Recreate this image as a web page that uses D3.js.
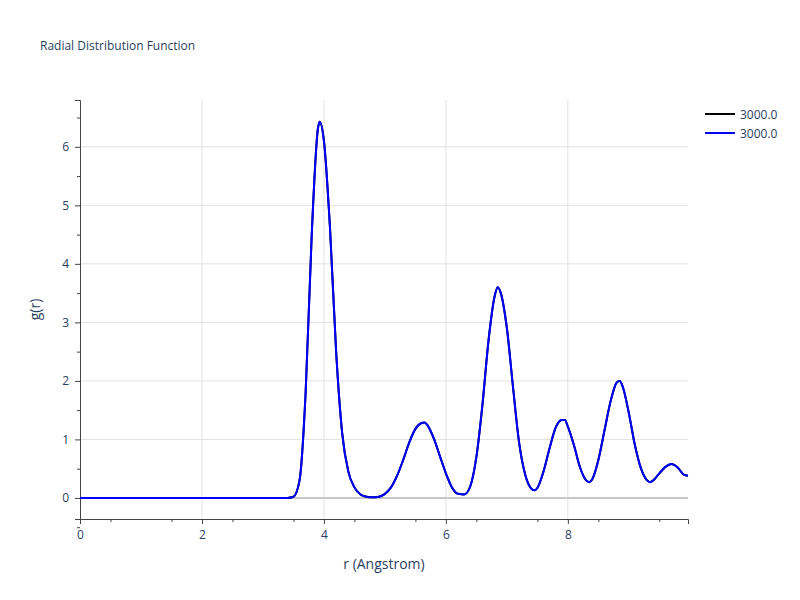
<!DOCTYPE html>
<html>
<head>
<script src="https://d3js.org/d3.v7.min.js"></script>
<style>
body { margin: 0; background: #fff; font-family: "Open Sans", Arial, sans-serif; }
text { fill: #2a3f5f; }
</style>
</head>
<body>
<div id="viz"></div>
<script>
const rValues = [0, 1, 2, 3, 3.4, 3.5, 3.6, 3.7, 3.8, 3.9, 3.93, 4.0, 4.1, 4.2, 4.3, 4.4, 4.5, 4.6, 4.7, 4.8, 4.9,
  5.0, 5.1, 5.2, 5.3, 5.4, 5.5, 5.6, 5.65, 5.7, 5.8, 5.9, 6.0, 6.1, 6.2, 6.3, 6.4, 6.5, 6.6, 6.7, 6.8, 6.85, 6.9,
  7.0, 7.1, 7.2, 7.3, 7.4, 7.45, 7.5, 7.6, 7.7, 7.8, 7.9, 7.95, 8.0, 8.1, 8.2, 8.3, 8.35, 8.4, 8.5, 8.6, 8.7, 8.8,
  8.85, 8.9, 9.0, 9.1, 9.2, 9.3, 9.35, 9.4, 9.5, 9.6, 9.7, 9.8, 9.9, 9.97];
const gValues = [0, 0, 0, 0, 0, 0.02, 0.3, 1.8, 4.5, 6.3, 6.43, 6.1, 4.6, 2.5, 1.1, 0.45, 0.18, 0.06, 0.02, 0.01, 0.02,
  0.07, 0.18, 0.38, 0.65, 0.95, 1.18, 1.28, 1.29, 1.24, 1.02, 0.72, 0.42, 0.18, 0.07, 0.06, 0.2, 0.7, 1.6, 2.7, 3.45, 3.6, 3.5,
  2.9, 1.9, 0.95, 0.4, 0.16, 0.13, 0.17, 0.45, 0.85, 1.2, 1.33, 1.33, 1.22, 0.9, 0.52, 0.3, 0.27, 0.32, 0.65, 1.15, 1.65, 1.97,
  2.0, 1.9, 1.45, 0.9, 0.5, 0.3, 0.27, 0.3, 0.42, 0.53, 0.58, 0.52, 0.4, 0.38];
const seriesNames = ["3000.0", "3000.0"];
const seriesColors = ["#000000", "#0000ff"];
const xTicks = [0, 2, 4, 6, 8];
const yTicks = [0, 1, 2, 3, 4, 5, 6];

const width = 800, height = 600;
const m = { left: 80, right: 112, top: 100, bottom: 81 };
const svg = d3.select('#viz').append('svg').attr('width', width).attr('height', height);

const x = d3.scaleLinear().domain([0, 9.97]).range([m.left, width - m.right]);
const y = d3.scaleLinear().domain([-0.36, 6.8]).range([height - m.bottom, m.top]);

// grid
svg.append('g').selectAll('line').data(xTicks.slice(1)).enter().append('line')
  .attr('x1', d => x(d)).attr('x2', d => x(d)).attr('y1', m.top).attr('y2', height - m.bottom)
  .attr('stroke', '#e2e2e2');
svg.append('g').selectAll('line').data(yTicks).enter().append('line')
  .attr('x1', m.left).attr('x2', width - m.right).attr('y1', d => y(d)).attr('y2', d => y(d))
  .attr('stroke', d => d === 0 ? '#c8c8c8' : '#e2e2e2').attr('stroke-width', d => d === 0 ? 2 : 1);

// axes
const xAxis = svg.append('g').attr('transform', `translate(0,${height - m.bottom})`)
  .call(d3.axisBottom(x).tickValues(xTicks).tickSize(5).tickPadding(6));
svg.append('g').attr('transform', `translate(0,${height - m.bottom})`)
  .call(d3.axisBottom(x).tickValues(d3.range(0.5, 10, 1)).tickSize(3).tickFormat(''))
  .select('.domain').remove();
const yAxis = svg.append('g').attr('transform', `translate(${m.left},0)`)
  .call(d3.axisLeft(y).tickValues(yTicks).tickSize(5).tickPadding(6));
svg.append('g').attr('transform', `translate(${m.left},0)`)
  .call(d3.axisLeft(y).tickValues(d3.range(-0.5, 7, 0.5).filter(v => v % 1 !== 0 || v < 0)).tickSize(3).tickFormat(''))
  .select('.domain').remove();
svg.selectAll('.domain, .tick line').attr('stroke', '#444');
svg.selectAll('.tick text').attr('fill', '#2a3f5f').style('font-size', '12px').style('font-family', '"Open Sans", Arial, sans-serif');

// lines
const pts = rValues.map((r, i) => [r, gValues[i]]);
const line = d3.line().x(d => x(d[0])).y(d => y(d[1])).curve(d3.curveMonotoneX);
seriesColors.forEach(c => {
  svg.append('path').datum(pts).attr('d', line).attr('fill', 'none').attr('stroke', c).attr('stroke-width', 2);
});

// titles
svg.append('text').attr('x', 40).attr('y', 50).style('font-size', '12px').text('Radial Distribution Function');
svg.append('text').attr('x', (m.left + width - m.right) / 2).attr('y', 569).attr('text-anchor', 'middle')
  .style('font-size', '14px').text('r (Angstrom)');
svg.append('text').attr('transform', `translate(40,${(m.top + height - m.bottom) / 2}) rotate(-90)`)
  .attr('text-anchor', 'middle').style('font-size', '14px').text('g(r)');

// legend
const leg = svg.append('g').selectAll('g').data(seriesNames).enter().append('g')
  .attr('transform', (d, i) => `translate(705,${114 + i * 19})`);
leg.append('line').attr('x1', 0).attr('x2', 30).attr('stroke', (d, i) => seriesColors[i]).attr('stroke-width', 2);
leg.append('text').attr('x', 35).attr('y', 4.5).style('font-size', '12px').text(d => d);
</script>
</body>
</html>
